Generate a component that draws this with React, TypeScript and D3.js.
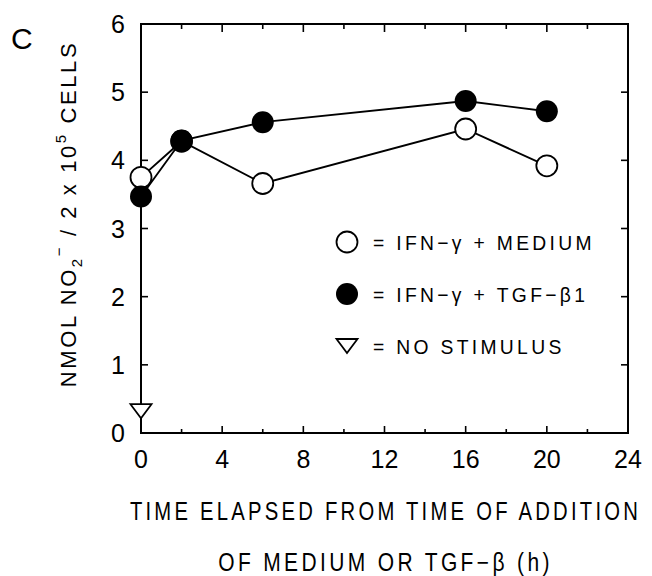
import React from "react";
import * as d3 from "d3";

const timesMedium = [0, 2, 6, 16, 20];
const valuesMedium = [3.75, 4.28, 3.66, 4.46, 3.92];
const timesTGF = [0, 2, 6, 16, 20];
const valuesTGF = [3.47, 4.29, 4.56, 4.87, 4.72];
const timesNoStim = [0];
const valuesNoStim = [0.32];
const xTicks = [0, 4, 8, 12, 16, 20, 24];
const xMinorTicks = [2, 6, 10, 14, 18, 22];
const yTicks = [0, 1, 2, 3, 4, 5, 6];
const legendLabels = ["= IFN\u2212\u03b3 + MEDIUM", "= IFN\u2212\u03b3 + TGF\u2212\u03b21", "= NO STIMULUS"];

const W = 652, H = 576;
const L = 141, R = 628, T = 24, B = 433;
const FONT = "'Liberation Sans', Arial, Helvetica, sans-serif";

export default function App() {
  const x = d3.scaleLinear().domain([0, 24]).range([L, R]);
  const y = d3.scaleLinear().domain([0, 6]).range([B, T]);
  const line = d3.line<[number, number]>().x(d => x(d[0])).y(d => y(d[1]));
  const med: [number, number][] = timesMedium.map((t, i) => [t, valuesMedium[i]]);
  const tgf: [number, number][] = timesTGF.map((t, i) => [t, valuesTGF[i]]);
  const tri = (cx: number, cy: number) => `M${cx - 10.5},${cy - 7}L${cx + 10.5},${cy - 7}L${cx},${cy + 7}Z`;
  const legY = [242, 294, 346];
  const legX = 347;
  const cx = (L + R) / 2;

  return (
    <svg width={W} height={H} style={{ position: "absolute", left: 0, top: 0, background: "#fff" }} fontFamily={FONT}>
      <rect x={0} y={0} width={W} height={H} fill="#fff" />
      {/* frame */}
      <rect x={L} y={T} width={R - L} height={B - T} fill="none" stroke="#000" strokeWidth={2} />
      {/* x ticks */}
      {xTicks.map(t => (
        <g key={"xt" + t}>
          <line x1={x(t)} x2={x(t)} y1={B} y2={B - 7} stroke="#000" strokeWidth={1.6} />
          <line x1={x(t)} x2={x(t)} y1={T} y2={T + 8} stroke="#000" strokeWidth={1.6} />
          <text x={x(t)} y={468} fontSize={25} textAnchor="middle">{t}</text>
        </g>
      ))}
      {xMinorTicks.map(t => (
        <g key={"xm" + t}>
          <line x1={x(t)} x2={x(t)} y1={B} y2={B - 4} stroke="#000" strokeWidth={1.6} />
          <line x1={x(t)} x2={x(t)} y1={T} y2={T + 5} stroke="#000" strokeWidth={1.6} />
        </g>
      ))}
      {/* y ticks */}
      {yTicks.map(v => (
        <g key={"yt" + v}>
          <line x1={L} x2={L + 7} y1={y(v)} y2={y(v)} stroke="#000" strokeWidth={1.6} />
          <line x1={R} x2={R - 7} y1={y(v)} y2={y(v)} stroke="#000" strokeWidth={1.6} />
          <text x={125} y={y(v)} dy="0.36em" fontSize={25} textAnchor="end">{v}</text>
        </g>
      ))}
      {/* series lines */}
      <path d={line(med) || ""} fill="none" stroke="#000" strokeWidth={1.9} />
      <path d={line(tgf) || ""} fill="none" stroke="#000" strokeWidth={1.9} />
      {med.map((d, i) => (
        <circle key={"m" + i} cx={x(d[0])} cy={y(d[1])} r={10.5} fill="#fff" stroke="#000" strokeWidth={1.8} />
      ))}
      {tgf.map((d, i) => (
        <circle key={"f" + i} cx={x(d[0])} cy={y(d[1])} r={11} fill="#000" />
      ))}
      {timesNoStim.map((t, i) => (
        <path key={"n" + i} d={tri(x(t), y(valuesNoStim[i]))} fill="#fff" stroke="#000" strokeWidth={1.8} />
      ))}
      {/* legend */}
      <circle cx={legX} cy={legY[0]} r={10.5} fill="#fff" stroke="#000" strokeWidth={1.8} />
      <circle cx={legX} cy={legY[1]} r={11} fill="#000" />
      <path d={tri(legX, legY[2])} fill="#fff" stroke="#000" strokeWidth={1.8} />
      {legendLabels.map((s, i) => (
        <text key={"lg" + i} transform={`translate(373,${legY[i] + 8}) scale(0.92,1)`} fontSize={21} letterSpacing={3.6}>{s}</text>
      ))}
      {/* panel letter */}
      <text x={11} y={49} fontSize={30}>C</text>
      {/* y title */}
      <text transform="translate(76,214) rotate(-90)" fontSize={22} textAnchor="middle" letterSpacing={2.6}>
        NMOL NO<tspan fontSize={15} dy={6}>2</tspan><tspan fontSize={15} dy={-18}>{"\u2212"}</tspan>
        <tspan dy={12}>{" / 2 x 10"}</tspan><tspan fontSize={15} dy={-10}>5</tspan><tspan dy={10}>{" CELLS"}</tspan>
      </text>
      {/* x title */}
      <text transform={`translate(${cx + 1},520) scale(0.81,1)`} fontSize={25} letterSpacing={4} textAnchor="middle">
        TIME ELAPSED FROM TIME OF ADDITION
      </text>
      <text transform={`translate(${cx + 1},571) scale(0.84,1)`} fontSize={25} letterSpacing={4} textAnchor="middle">
        OF MEDIUM OR TGF{"\u2212"}{"\u03b2"} (h)
      </text>
    </svg>
  );
}
